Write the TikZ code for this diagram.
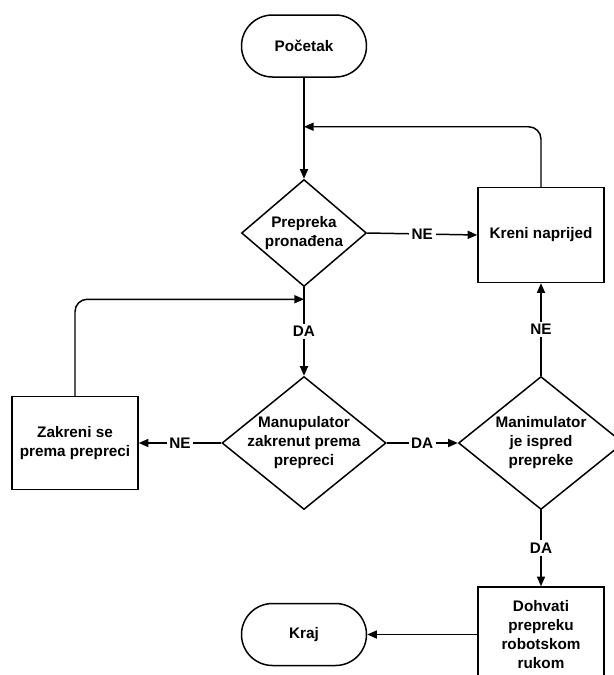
\documentclass[tikz,border=0pt]{standalone}
\usepackage{fontspec}
\setmainfont{Liberation Sans}
\usetikzlibrary{positioning,arrows.meta,shapes.geometric,calc}

\begin{document}
\begin{tikzpicture}[
    font=\fontsize{8.7}{10.8}\selectfont\bfseries,
    >={Triangle[length=5.5pt,width=4.6pt]},
    line width=0.85pt,
    terminal/.style={
        draw,
        rounded corners=0.62cm,
        align=center,
        minimum width=2.5cm,
        minimum height=1.24cm
    },
    actionbox/.style={
        draw,
        align=center,
        inner sep=2pt,
        minimum width=2.52cm,
        minimum height=1.9cm
    },
    decision/.style={
        draw,
        diamond,
        align=center,
        inner sep=0pt,
        aspect=1.2
    },
    edgelabel/.style={
        fill=white,
        inner sep=1.5pt
    }
]
\useasboundingbox (0,0) rectangle (12.28,-13.5);

% Start and first check
\node[terminal] (start) at (6.08,-0.92) {Početak};
\node[decision, minimum width=2.5cm, minimum height=2.14cm] (found) at (6.08,-4.66) {Prepreka\\pronađena};
\node[actionbox, minimum height=1.9cm] (forward) at (10.82,-4.7) {Kreni naprijed};

% Middle row
\node[decision, inner sep=-3.2pt, minimum width=3.28cm, minimum height=2.66cm] (turned) at (6.08,-8.86) {Manupulator\\zakrenut prema\\prepreci};
\node[actionbox, minimum height=1.86cm] (rotate) at (1.5,-8.86) {Zakreni se\\prema prepreci};
\node[decision, inner sep=-3.2pt, minimum width=3.3cm, minimum height=2.66cm] (infront) at (10.82,-8.86) {Manimulator\\je ispred\\prepreke};

% Bottom row
\node[actionbox, minimum height=1.9cm] (grab) at (10.82,-12.69) {Dohvati\\prepreku\\robotskom\\rukom};
\node[terminal] (stop) at (6.08,-12.69) {Kraj};

% Merge points
\coordinate (loopin) at ($(start.south)+(0,-0.98)$);
\coordinate (loopmid) at ($(found.south)+(0,-0.24)$);

% Connectors
\draw[->] (start) -- (found);
\draw[->] (found.east) -- node[edgelabel] {NE} (forward.west);
\draw[->, rounded corners=7pt] (forward.north) |- (loopin);
\draw[->] (found.south) -- node[edgelabel] {DA} (turned.north);
\draw[->] (turned.west) -- node[edgelabel] {NE} (rotate.east);
\draw[->, rounded corners=7pt] (rotate.north) |- (loopmid);
\draw[->] (turned.east) -- node[edgelabel] {DA} (infront.west);
\draw[->] (infront.north) -- node[edgelabel] {NE} (forward.south);
\draw[->] (infront.south) -- node[edgelabel] {DA} (grab.north);
\draw[->] (grab.west) -- (stop.east);

\end{tikzpicture}
\end{document}
